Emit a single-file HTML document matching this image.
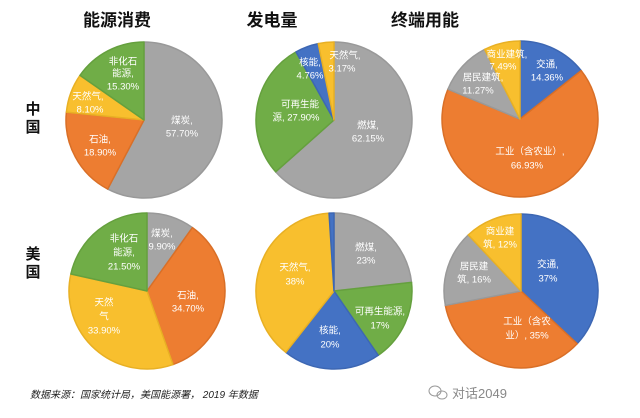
<!DOCTYPE html>
<html><head><meta charset="utf-8"><style>
html,body{margin:0;padding:0;background:#fff;}
body{width:640px;height:418px;overflow:hidden;position:relative;font-family:"Liberation Sans","Noto Sans CJK SC",sans-serif;}
svg{position:absolute;left:0;top:0;}
</style></head><body>
<svg id="s" width="640" height="418" viewBox="0 0 640 418" xmlns="http://www.w3.org/2000/svg" font-family="'Liberation Sans','Noto Sans CJK SC',sans-serif">
<g font-size="17" font-weight="bold" fill="#111" text-anchor="middle">
<text x="117" y="26">能源消费</text>
<text x="272" y="26">发电量</text>
<text x="425" y="26">终端用能</text>
</g>
<g font-size="15" font-weight="bold" fill="#111" text-anchor="middle">
<text x="33" y="114">中</text><text x="33" y="132">国</text>
<text x="33" y="259">美</text><text x="33" y="277">国</text>
</g>
<g id="pies"></g>
<g id="labels" font-size="9.5" fill="#fff" text-anchor="middle" dominant-baseline="middle"></g>
<text x="30" y="398" font-size="10" font-style="italic" fill="#222">数据来源：国家统计局，美国能源署， 2019 年数据</text>
<g fill="none" stroke="#999" stroke-width="1"><ellipse cx="435" cy="391" rx="6" ry="5"/><ellipse cx="442" cy="395" rx="5" ry="4"/></g>
<text x="452" y="398" font-size="13" fill="#888">对话2049</text>
</svg>
<script>
var C={g:"#a5a5a5",o:"#ed7d31",y:"#f8bf2e",gr:"#70ad47",b:"#4472c4"};
var D={g:"#999",o:"#d96f27",y:"#e8b024",gr:"#65a03e",b:"#3d67b3"};
var pies=[
[144,120,78,[[57.7,"g"],[18.9,"o"],[8.1,"y"],[15.3,"gr"]]],
[334,120,78,[[62.15,"g"],[27.9,"gr"],[4.76,"b"],[3.17,"y"]]],
[520,119,78,[[14.36,"b"],[66.93,"o"],[11.27,"g"],[7.49,"y"]]],
[147,291,78,[[9.9,"g"],[34.7,"o"],[33.9,"y"],[21.5,"gr"]]],
[334,291,78,[[23,"g"],[17,"gr"],[20,"b"],[38,"y"],[1,"b"]]],
[521,291,77,[[37,"b"],[35,"o"],[16,"g"],[12,"y"]]]
];
var ns="http://www.w3.org/2000/svg",G=document.getElementById("pies");
pies.forEach(function(p){
 var cx=p[0],cy=p[1],r=p[2],t=0,s=0;p[3].forEach(function(v){s+=v[0];});
 p[3].forEach(function(v){
  var a0=t/s*2*Math.PI;t+=v[0];var a1=t/s*2*Math.PI;
  var x0=cx+r*Math.sin(a0),y0=cy-r*Math.cos(a0),x1=cx+r*Math.sin(a1),y1=cy-r*Math.cos(a1);
  var el=document.createElementNS(ns,"path");
  el.setAttribute("d","M"+cx+","+cy+"L"+x0+","+y0+"A"+r+","+r+" 0 "+((a1-a0)>Math.PI?1:0)+" 1 "+x1+","+y1+"Z");
  el.setAttribute("fill",C[v[1]]);el.setAttribute("stroke",D[v[1]]);el.setAttribute("stroke-width","1.5");el.setAttribute("stroke-linejoin","round");
  G.appendChild(el);
 });
});
var L=[
["非化石",123,62],["能源,",123,74],["15.30%",123,87],["天然气,",88,97],["8.10%",90,110],["石油,",100,140],["18.90%",100,153],["煤炭,",182,121],["57.70%",182,134],
["核能,",310,63],["4.76%",310,76],["天然气,",345,56],["3.17%",342,69],["可再生能",300,105],["源, 27.90%",296,118],["燃煤,",368,126],["62.15%",368,139],
["商业建筑,",507,55],["7.49%",503,67],["交通,",547,65],["14.36%",547,78],["居民建筑,",483,78],["11.27%",478,91],["工业（含农业）,",530,152],["66.93%",527,166],
["煤炭,",162,234],["9.90%",162,247],["非化石",124,239],["能源,",124,253],["21.50%",124,267],["石油,",188,296],["34.70%",188,309],["天然",104,303],["气",104,317],["33.90%",104,331],
["燃煤,",366,248],["23%",366,261],["天然气,",295,268],["38%",295,282],["可再生能源,",380,312],["17%",380,326],["核能,",330,331],["20%",330,345],
["商业建",500,232],["筑, 12%",500,245],["交通,",548,265],["37%",548,279],["居民建",474,267],["筑, 16%",474,280],["工业（含农",527,322],["业）, 35%",527,336]
];
var LG=document.getElementById("labels");
L.forEach(function(l){var e=document.createElementNS(ns,"text");e.setAttribute("x",l[1]);e.setAttribute("y",l[2]);e.textContent=l[0];LG.appendChild(e);});
</script>
</body></html>
